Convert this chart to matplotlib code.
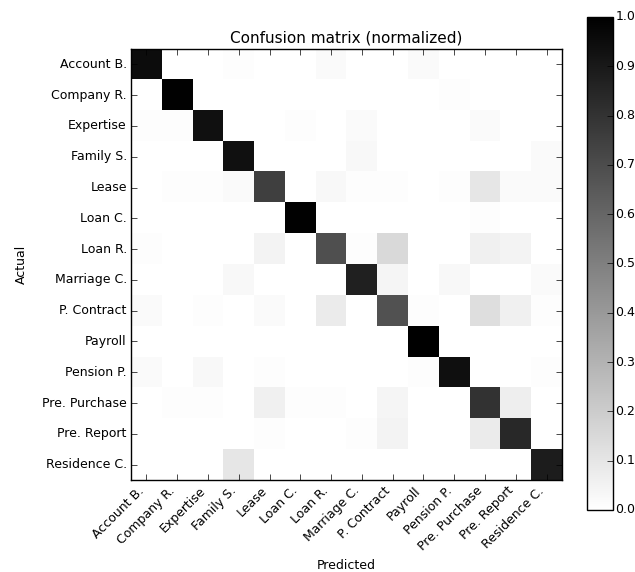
import numpy as np
import matplotlib
matplotlib.use("Agg")
import matplotlib.pyplot as plt

plt.style.use("classic")
plt.rcParams["figure.facecolor"] = "white"
plt.rcParams["savefig.facecolor"] = "white"
plt.rcParams["font.family"] = ["DejaVu Sans"]
plt.rcParams["font.size"] = 9
plt.rcParams["xtick.major.pad"] = 3
plt.rcParams["ytick.major.pad"] = 3

classes = ["Account B.", "Company R.", "Expertise", "Family S.", "Lease",
           "Loan C.", "Loan R.", "Marriage C.", "P. Contract", "Payroll",
           "Pension P.", "Pre. Purchase", "Pre. Report", "Residence C."]

# Row-normalized confusion matrix (rows: actual, columns: predicted)
row_account   = [0.95, 0, 0, 0.01, 0, 0, 0.02, 0, 0, 0.02, 0, 0, 0, 0]
row_company   = [0, 0.99, 0, 0, 0, 0, 0, 0, 0, 0, 0.01, 0, 0, 0]
row_expertise = [0.01, 0.01, 0.93, 0, 0, 0.01, 0, 0.02, 0, 0, 0, 0.02, 0, 0]
row_family    = [0, 0, 0, 0.93, 0, 0, 0, 0.03, 0, 0, 0, 0, 0, 0.02]
row_lease     = [0, 0.01, 0.01, 0.02, 0.75, 0, 0.03, 0.01, 0.01, 0, 0.01, 0.10, 0.02, 0.02]
row_loan_c    = [0, 0, 0, 0, 0, 0.99, 0, 0, 0, 0, 0, 0.01, 0, 0]
row_loan_r    = [0.01, 0, 0, 0, 0.05, 0, 0.69, 0.01, 0.15, 0, 0, 0.06, 0.05, 0]
row_marriage  = [0, 0, 0, 0.03, 0, 0, 0, 0.87, 0.04, 0, 0.03, 0, 0, 0.02]
row_contract  = [0.02, 0, 0.01, 0, 0.02, 0, 0.08, 0, 0.68, 0.01, 0, 0.13, 0.06, 0.01]
row_payroll   = [0, 0, 0, 0, 0, 0, 0, 0, 0, 1.00, 0, 0, 0, 0]
row_pension   = [0.02, 0, 0.03, 0, 0.01, 0, 0, 0, 0, 0.01, 0.94, 0, 0, 0.01]
row_purchase  = [0, 0.01, 0.01, 0, 0.06, 0.01, 0.01, 0, 0.04, 0, 0, 0.80, 0.07, 0]
row_report    = [0, 0, 0, 0, 0.01, 0, 0, 0.01, 0.05, 0, 0, 0.08, 0.84, 0]
row_residence = [0, 0, 0, 0.10, 0, 0, 0, 0, 0, 0, 0, 0, 0, 0.89]

cm = np.array([row_account, row_company, row_expertise, row_family, row_lease,
               row_loan_c, row_loan_r, row_marriage, row_contract, row_payroll,
               row_pension, row_purchase, row_report, row_residence])

fig = plt.figure(figsize=(6.35, 5.72), dpi=100)
ax = fig.add_axes([0.2063, 0.1608, 0.6787, 0.7535])
cax = fig.add_axes([0.9244, 0.1084, 0.0402, 0.8619])

im = ax.imshow(cm, interpolation="nearest", cmap=plt.cm.gray_r,
               vmin=0.0, vmax=1.0, aspect="auto")
ax.set_title("Confusion matrix (normalized)", fontsize=11)
ticks = np.arange(len(classes))
ax.set_xticks(ticks)
ax.set_xticklabels(classes, rotation=45, ha="right")
ax.set_yticks(ticks)
ax.set_yticklabels(classes)
ax.set_ylabel("Actual", labelpad=10)
ax.set_xlabel("Predicted", labelpad=4)

cb = fig.colorbar(im, cax=cax)
cb.set_ticks(np.linspace(0, 1, 11))
cb.ax.tick_params(pad=2)

fig.savefig("out.png", dpi=100)
